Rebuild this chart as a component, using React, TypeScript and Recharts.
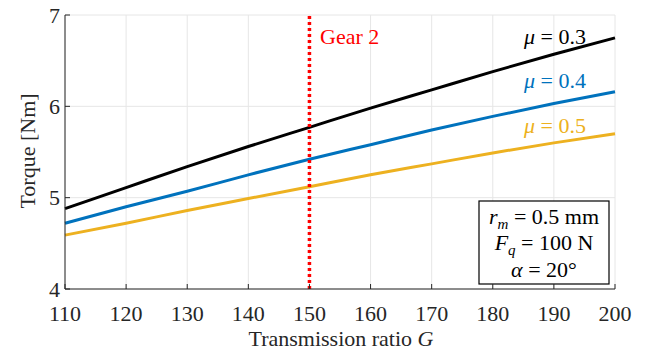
import React from 'react';
import { LineChart, Line, XAxis, YAxis, CartesianGrid, ReferenceLine, Customized } from 'recharts';

// transmission ratio G
const ratios = [110, 120, 130, 140, 150, 160, 170, 180, 190, 200];
// torque [Nm] for each friction coefficient
const torqueMu03 = [4.88, 5.11, 5.34, 5.56, 5.77, 5.98, 6.18, 6.38, 6.57, 6.75];
const torqueMu04 = [4.72, 4.9, 5.07, 5.25, 5.42, 5.58, 5.74, 5.89, 6.03, 6.16];
const torqueMu05 = [4.59, 4.72, 4.86, 4.99, 5.12, 5.25, 5.37, 5.49, 5.6, 5.7];
const xTicks = [110, 120, 130, 140, 150, 160, 170, 180, 190, 200];
const yTicks = [4, 5, 6, 7];
const gearRatio = 150;

const data = ratios.map((g, i) => ({
  g,
  mu03: torqueMu03[i],
  mu04: torqueMu04[i],
  mu05: torqueMu05[i],
}));

const FONT = 'Liberation Serif, Times New Roman, serif';
const AXIS = '#262626';
const tickStyle = { fill: AXIS, fontSize: 22, fontFamily: FONT, style: { fontFamily: FONT } };

const Annotations = () => (
  <g style={{ fontFamily: FONT, fontSize: 22 }}>
    <text x={320} y={44} fill="#ff0000">Gear 2</text>
    <text x={586} y={44} textAnchor="end" fill="#000000">
      <tspan fontStyle="italic">μ</tspan> = 0.3
    </text>
    <text x={586} y={88} textAnchor="end" fill="#0072bd">
      <tspan fontStyle="italic">μ</tspan> = 0.4
    </text>
    <text x={586} y={133} textAnchor="end" fill="#edb120">
      <tspan fontStyle="italic">μ</tspan> = 0.5
    </text>
    <rect x={479} y={201} width={130} height={83} fill="#ffffff" stroke="#000000" strokeWidth={1.2} />
    <text x={544} y={224} textAnchor="middle" fill="#000000">
      <tspan fontStyle="italic">r</tspan>
      <tspan fontStyle="italic" fontSize={15} dy={5}>m</tspan>
      <tspan dy={-5}> = 0.5 mm</tspan>
    </text>
    <text x={544} y={250} textAnchor="middle" fill="#000000">
      <tspan fontStyle="italic">F</tspan>
      <tspan fontStyle="italic" fontSize={15} dy={5}>q</tspan>
      <tspan dy={-5}> = 100 N</tspan>
    </text>
    <text x={544} y={277} textAnchor="middle" fill="#000000">
      <tspan fontStyle="italic">α</tspan> = 20°
    </text>
    <text x={341} y={346} textAnchor="middle" fill={AXIS}>
      Transmission ratio <tspan fontStyle="italic">G</tspan>
    </text>
    <text x={35} y={151} textAnchor="middle" fill={AXIS} transform="rotate(-90 35 151)">
      Torque [Nm]
    </text>
  </g>
);

const App: React.FC = () => {
  return (
    <div style={{ position: 'absolute', left: 0, top: 0, width: 649, height: 353, background: '#fff', fontFamily: FONT }}>
      <LineChart width={649} height={353} data={data} margin={{ top: 15, right: 34, left: 0, bottom: 0 }} style={{ fontFamily: FONT }}>
        <CartesianGrid stroke="#e6e6e6" strokeWidth={1} />
        <XAxis
          dataKey="g"
          type="number"
          domain={[110, 200]}
          ticks={xTicks}
          height={64}
          stroke={AXIS}
          tickSize={-5}
          tickMargin={21}
          tick={tickStyle}
        />
        <XAxis
          xAxisId="top"
          dataKey="g"
          type="number"
          orientation="top"
          domain={[110, 200]}
          ticks={xTicks}
          height={0}
          stroke={AXIS}
          tickSize={-5}
          tick={false}
        />
        <YAxis
          type="number"
          domain={[4, 7]}
          ticks={yTicks}
          width={65}
          stroke={AXIS}
          tickSize={-5}
          tickMargin={10}
          tick={tickStyle}
        />
        <YAxis
          yAxisId="right"
          type="number"
          orientation="right"
          domain={[4, 7]}
          ticks={yTicks}
          width={0}
          stroke={AXIS}
          tickSize={-5}
          tick={false}
        />
        <Line type="monotone" dataKey="mu03" stroke="#000000" strokeWidth={3} dot={false} isAnimationActive={false} />
        <Line type="monotone" dataKey="mu04" stroke="#0072bd" strokeWidth={3} dot={false} isAnimationActive={false} />
        <Line type="monotone" dataKey="mu05" stroke="#edb120" strokeWidth={3} dot={false} isAnimationActive={false} />
        <ReferenceLine x={gearRatio} stroke="#ff0000" strokeWidth={3.5} strokeDasharray="3 3" />
        <Customized component={Annotations} />
      </LineChart>
    </div>
  );
};

export default App;
